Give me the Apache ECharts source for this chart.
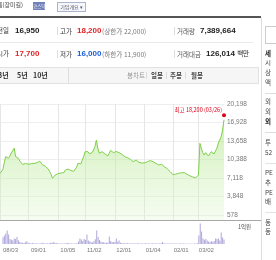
<!DOCTYPE html>
<html><head><meta charset="utf-8">
<script src="https://cdn.jsdelivr.net/npm/echarts@6/dist/echarts.min.js"></script>
<style>
html,body{margin:0;padding:0;width:276px;height:260px;overflow:hidden;background:#fff;font-family:"Noto Sans CJK KR","Liberation Sans",sans-serif;}
#chart{position:absolute;left:0;top:0;width:276px;height:260px;}
.t{position:absolute;white-space:nowrap;line-height:1;z-index:2;}
.n{font-family:"Liberation Sans",Arial,sans-serif;font-weight:bold;font-size:8px;color:#222;}
.l{font-size:6.5px;color:#333;}
.g{font-size:6.6px;color:#777;}
.hl{position:absolute;height:1px;background:#eaeaea;z-index:2;}
.vl{position:absolute;width:1px;background:#ddd;z-index:2;}
.side{position:absolute;left:265px;font-size:6.5px;color:#444;line-height:1;z-index:2;}
</style></head><body>
<div id="chart"></div>

<!-- top strip -->
<div class="t" style="left:-3px;top:2px;font-size:6px;color:#444;">름(장미길)</div>
<div class="t" style="left:33px;top:2px;width:12px;height:8px;background:#7080b8;color:#fff;font-size:4.5px;line-height:8px;text-align:center;">코스닥</div>
<div class="t" style="left:57px;top:2px;width:27px;height:8px;border:1px solid #aab4cc;background:#f5f7fb;color:#556;font-size:5px;line-height:8px;text-align:center;">기업개요 ▾</div>
<div style="position:absolute;left:0;top:16px;width:261px;height:2px;background:#555;z-index:2;"></div>

<!-- row 1 -->
<div class="t l" style="left:-3px;top:27px;">전일</div>
<div class="t n" style="left:15px;top:27px;">16,950</div>
<div class="vl" style="left:57px;top:27px;height:8px;"></div>
<div class="t l" style="left:60px;top:27.5px;">고가</div>
<div class="t n" style="left:77px;top:27px;color:#e0242a;">18,200</div>
<div class="t g" style="left:102px;top:27.5px;">(상한가 22,000)</div>
<div class="vl" style="left:174px;top:27px;height:8px;"></div>
<div class="t l" style="left:177px;top:27.5px;color:#555;">거래량</div>
<div class="t n" style="left:200px;top:27px;">7,389,664</div>
<div class="hl" style="left:0;top:42px;width:253px;"></div>

<!-- row 2 -->
<div class="t l" style="left:-3px;top:50px;">시가</div>
<div class="t n" style="left:15px;top:50px;color:#e0242a;">17,700</div>
<div class="vl" style="left:57px;top:50px;height:8px;"></div>
<div class="t l" style="left:60px;top:50.5px;">저가</div>
<div class="t n" style="left:77px;top:50px;color:#1b5fd6;">16,000</div>
<div class="t g" style="left:102px;top:50.5px;">(하한가 11,900)</div>
<div class="vl" style="left:174px;top:50px;height:8px;"></div>
<div class="t l" style="left:177px;top:50.5px;color:#555;">거래대금</div>
<div class="t n" style="left:206px;top:50px;">126,014 <span style="font-weight:normal;font-size:6.5px;font-family:'Noto Sans CJK KR';">백만</span></div>

<!-- tab bar -->
<div style="position:absolute;left:-1px;top:67px;width:258px;height:15px;background:#f6f6f6;border:1px solid #e2e2e2;z-index:1;"></div>
<div class="t" style="left:-2px;top:71.5px;font-size:7px;font-weight:bold;color:#333;">3년</div>
<div class="t" style="left:17px;top:71.5px;font-size:7px;font-weight:bold;color:#333;">5년</div>
<div class="t" style="left:33px;top:71.5px;font-size:7px;font-weight:bold;color:#333;">10년</div>
<div class="vl" style="left:68px;top:67px;height:16px;"></div>
<div class="t" style="left:127px;top:72px;font-size:6.5px;color:#999;">봉차트</div>
<div class="vl" style="left:146px;top:72px;height:7px;"></div>
<div class="t" style="left:151px;top:72px;font-size:6.5px;color:#444;font-weight:bold;">일봉</div>
<div class="vl" style="left:166px;top:72px;height:7px;"></div>
<div class="t" style="left:170px;top:72px;font-size:6.5px;color:#444;font-weight:bold;">주봉</div>
<div class="vl" style="left:185px;top:72px;height:7px;"></div>
<div class="t" style="left:191px;top:72px;font-size:6.5px;color:#444;font-weight:bold;">월봉</div>

<!-- right sidebar -->
<div class="vl" style="left:261px;top:18px;height:242px;"></div>
<div style="position:absolute;left:265px;top:26px;width:20px;height:16px;border:1px solid #ccc;z-index:2;"></div>
<div class="side" style="top:50px;font-weight:bold;color:#222;">세</div>
<div class="side" style="top:59px;">시</div>
<div class="side" style="top:69px;">상</div>
<div class="side" style="top:79px;">액</div>
<div class="hl" style="left:265px;top:93px;width:11px;background:#ddd;"></div>
<div class="side" style="top:98px;">외</div>
<div class="side" style="top:108px;">외</div>
<div class="side" style="top:118px;font-weight:bold;color:#222;">외</div>
<div class="hl" style="left:265px;top:132px;width:11px;background:#ddd;"></div>
<div class="side" style="top:139px;">투</div>
<div class="side" style="top:149px;">52</div>
<div class="hl" style="left:265px;top:163px;width:11px;background:#e4e4e4;"></div>
<div class="side" style="top:169px;">PE</div>
<div class="side" style="top:179px;">추</div>
<div class="side" style="top:189px;">PE</div>
<div class="side" style="top:198px;">배</div>
<div class="hl" style="left:265px;top:212px;width:11px;background:#e4e4e4;"></div>
<div class="side" style="top:219px;">동</div>
<div class="side" style="top:228px;">동</div>

<script>
// ---- data ----
const dates = [
'08/03','08/04','08/05','08/06','08/07','08/10','08/11','08/12','08/13','08/14','08/18','08/19','08/20','08/21','08/24','08/25','08/26','08/27','08/28','08/31',
'09/01','09/02','09/03','09/04','09/07','09/08','09/09','09/10','09/11','09/14','09/15','09/16','09/17','09/18','09/21','09/22','09/23','09/24','09/25','09/28','09/29',
'10/05','10/06','10/07','10/08','10/12','10/13','10/14','10/15','10/16','10/19','10/20','10/21','10/22','10/23','10/26','10/27','10/28','10/29','10/30',
'11/02','11/03','11/04','11/05','11/06','11/09','11/10','11/11','11/12','11/13','11/16','11/17','11/18','11/19','11/20','11/23','11/24','11/25','11/26','11/27','11/30',
'12/01','12/02','12/03','12/04','12/07','12/08','12/09','12/10','12/11','12/14','12/15','12/16','12/17','12/18','12/21','12/22','12/23','12/24','12/28','12/29','12/30',
'01/04','01/05','01/06','01/07','01/08','01/11','01/12','01/13','01/14','01/15','01/18','01/19','01/20','01/21','01/22','01/25','01/26','01/27','01/28','01/29',
'02/01','02/02','02/03','02/04','02/05','02/08','02/09','02/10','02/15','02/16','02/17','02/18','02/19','02/22','02/23','02/24','02/25','02/26',
'03/02','03/03','03/04','03/05','03/08','03/09','03/10','03/11','03/12','03/15','03/16','03/17','03/18','03/19','03/22','03/23','03/24','03/25','03/26'
];
const closes = [
7900,8000,8600,9800,10900,10700,10600,11000,11550,11800,
12400,10900,11200,10600,10100,9800,9500,9400,9700,9600,
9550,9700,9650,9750,9700,9720,9800,9830,10100,9800,
9450,9350,9200,9100,8700,8250,7800,7070,7400,7650,
7800,7900,7950,8000,7980,8060,8500,8830,8700,8530,
8450,8400,8300,8060,9000,9720,9420,9600,9830,10900,
11770,11700,11770,11400,11190,11600,12070,12700,13840,12370,
11490,11600,11770,11600,11400,11360,11010,11500,12000,11900,
11600,11490,11800,11950,11590,11500,11300,11000,10890,10800,
10700,10600,10400,10150,10000,10200,10300,10100,9900,9850,
9750,9720,9800,9900,10000,10000,10200,10430,10000,9800,
9700,9550,9420,9480,9540,9300,9100,9000,8750,8500,
8250,8000,7700,7700,7800,7900,7950,8000,8050,8000,
8060,7900,7750,7650,7500,7400,7300,7240,7150,7070,
7650,13250,12370,11600,11190,11600,11300,11010,11400,11770,
11450,11360,11600,12400,13300,13540,14420,15600,17400
];
const volumes = [
400,500,620,800,560,300,250,200,330,300,
420,220,120,90,80,60,100,160,70,50,
40,60,50,35,45,35,30,45,80,50,
40,35,45,50,60,90,110,80,60,40,
35,30,35,30,30,45,60,50,35,30,
30,35,30,45,150,330,260,180,300,240,
560,200,150,120,90,180,280,800,420,230,
150,110,100,80,70,90,440,180,120,100,
140,330,130,200,80,60,50,45,40,45,
40,30,35,40,30,35,40,30,28,30,
35,30,40,35,30,28,30,40,35,30,
30,28,30,40,120,40,30,28,25,28,
25,28,25,28,25,22,25,28,25,25,
28,25,22,25,22,25,22,25,28,40,
500,1210,740,330,250,300,200,150,120,160,
140,180,330,300,330,200,680,380,260
];
const monthTicks = ['08/03','09/01','10/05','11/02','12/01','01/04','02/01','03/02'];
const priceTicks = [578, 3848, 7118, 10388, 13658, 16928, 20198];
const highValue = 18200;
const highDate = '03/26';
const volumeUnitLabel = '1억원';

const chart = echarts.init(document.getElementById('chart'), null, {renderer:'canvas'});
const fmt = v => Number(v).toLocaleString('en-US');
const isMonthTick = (i, v) => monthTicks.indexOf(v) >= 0;

chart.setOption({
  animation: false,
  textStyle: {fontFamily: 'Liberation Sans'},
  grid: [
    {left: -2, top: 104, width: 226, height: 116},
    {left: -2, top: 222, width: 226, height: 22}
  ],
  xAxis: [
    {type:'category', gridIndex:0, data:dates, boundaryGap:false,
     axisLine:{show:false}, axisTick:{show:false}, axisLabel:{show:false},
     splitLine:{show:true, interval:isMonthTick, lineStyle:{color:'#e6e6e6', width:1}}},
    {type:'category', gridIndex:1, data:dates, boundaryGap:false,
     axisLine:{show:false}, axisTick:{show:false},
     axisLabel:{show:true, interval:isMonthTick, align:'left', fontSize:6, color:'#777', margin:3},
     splitLine:{show:false}}
  ],
  yAxis: [
    {type:'value', gridIndex:0, position:'right', min:-306, max:20198,
     axisLine:{show:false},
     axisTick:{show:false, customValues: priceTicks},
     axisLabel:{show:true, customValues: priceTicks, formatter: fmt, fontSize:6.5, color:'#777', margin:3},
     splitLine:{show:true, lineStyle:{color:'#eeeeee', width:1}}},
    {type:'value', gridIndex:1, min:0, max:1300, show:false, splitLine:{show:false}}
  ],
  series: [
    {type:'line', xAxisIndex:0, yAxisIndex:0, data:closes, symbol:'none',
     lineStyle:{color:'#7fd04a', width:1},
     areaStyle:{origin:'start', color:new echarts.graphic.LinearGradient(0,0,0,1,[
        {offset:0, color:'rgba(165,226,120,0.8)'},
        {offset:1, color:'rgba(225,246,210,0.45)'}])},
     markPoint:{
       symbol:'circle', symbolSize:4, itemStyle:{color:'#e0001b'},
       label:{show:true, position:'left', distance:1, offset:[1,-5], color:'#e0001b', fontSize:5.5,
              fontFamily:'Noto Sans CJK KR',
              formatter: () => '최고 ' + fmt(highValue) + ' (' + highDate + ')'},
       data:[{coord:[highDate, highValue]}]
     }},
    {type:'bar', xAxisIndex:1, yAxisIndex:1, data:volumes, barWidth:1,
     itemStyle:{color:'#ada7da'}}
  ],
  graphic: [
    {type:'line', shape:{x1:0, y1:220.5, x2:261, y2:220.5}, style:{stroke:'#a8a8a8', lineWidth:1}, z:10},
    {type:'text', left:238, top:224, style:{text: volumeUnitLabel, fontSize:5.5, fill:'#555', fontFamily:'Noto Sans CJK KR'}}
  ]
});
</script>
</body></html>
